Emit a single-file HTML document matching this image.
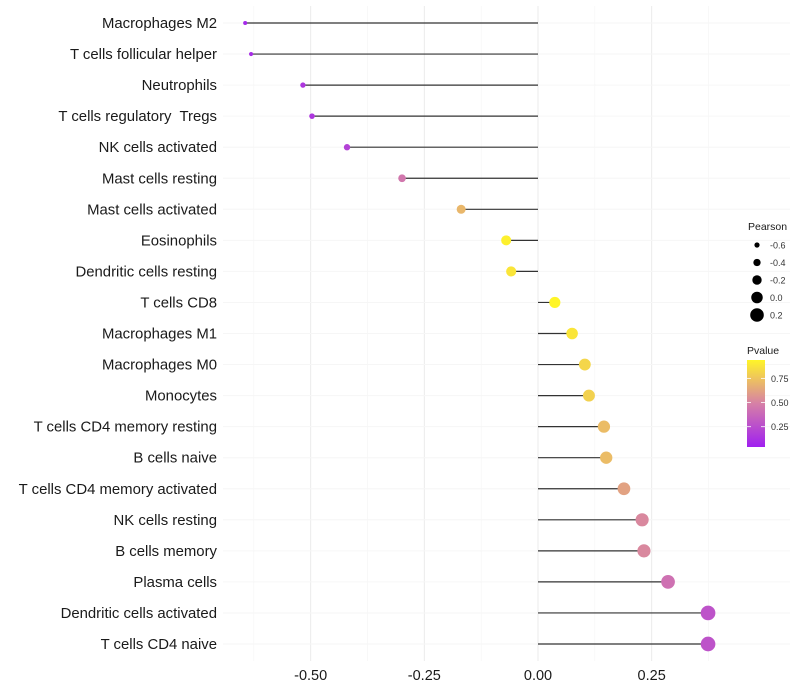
<!DOCTYPE html>
<html><head><meta charset="utf-8"><style>
body{margin:0;background:#fff;font-family:"Liberation Sans",sans-serif}
svg{display:block}
text{white-space:pre}
</style></head><body>
<svg id="c" width="800" height="700"></svg>
<script>
const categories=["Macrophages M2","T cells follicular helper","Neutrophils","T cells regulatory  Tregs","NK cells activated","Mast cells resting","Mast cells activated","Eosinophils","Dendritic cells resting","T cells CD8","Macrophages M1","Macrophages M0","Monocytes","T cells CD4 memory resting","B cells naive","T cells CD4 memory activated","NK cells resting","B cells memory","Plasma cells","Dendritic cells activated","T cells CD4 naive"];
const pearson=[-0.644,-0.631,-0.517,-0.497,-0.42,-0.299,-0.169,-0.070,-0.059,0.037,0.075,0.103,0.112,0.145,0.150,0.189,0.229,0.233,0.286,0.374,0.374];
const pvalue=[0.08,0.1,0.15,0.15,0.2,0.45,0.7,0.92,0.88,0.95,0.88,0.82,0.8,0.72,0.72,0.62,0.52,0.52,0.42,0.28,0.28];
const xTicks=[-0.5,-0.25,0,0.25];
const xTickLabels=["-0.50","-0.25","0.00","0.25"];
const legendPearson=[-0.6,-0.4,-0.2,0.0,0.2];
const legendPearsonLabels=["-0.6","-0.4","-0.2","0.0","0.2"];
const pTicks=[0.25,0.5,0.75];
const pTickLabels=["0.25","0.50","0.75"];

const NS="http://www.w3.org/2000/svg";
const svg=document.getElementById('c');
function el(t,a,p){const e=document.createElementNS(NS,t);for(const k in a)e.setAttribute(k,a[k]);(p||svg).appendChild(e);return e;}
const x=v=>538+v*454.7;
const y=i=>23+i*31.05;
const r=v=>2+(v+0.65)/1.02*5.3;
const lr=v=>2.6+(v+0.6)/0.8*4.2;
function lerp(a,b,t){return a.map((v,i)=>Math.round(v+(b[i]-v)*t));}
function color(p){
  const lo=[160,32,240],mid=[214,128,166],hi=[255,245,40];
  const t=Math.max(0,Math.min(1,(p-0.04)/0.9));
  const c=t<0.5?lerp(lo,mid,t/0.5):lerp(mid,hi,(t-0.5)/0.5);
  return `rgb(${c[0]},${c[1]},${c[2]})`;
}
const minor=[-0.625,-0.375,-0.125,0.125,0.375];
minor.forEach(v=>{const l=el('line',{x1:x(v),x2:x(v),y1:6,y2:661,stroke:'#f4f4f4','stroke-width':0.6});});
xTicks.forEach(v=>{const l=el('line',{x1:x(v),x2:x(v),y1:6,y2:661,stroke:'#ebebeb','stroke-width':1});});
categories.forEach((c,i)=>{const l=el('line',{x1:223,x2:790,y1:y(i),y2:y(i),stroke:'#f6f6f6','stroke-width':1});});
categories.forEach((c,i)=>{
  const t=el('text',{x:217,y:y(i)+5,'text-anchor':'end','font-size':14.9,fill:'#1a1a1a'});t.textContent=c;
  
  const s=el('line',{x1:x(0),x2:x(pearson[i]),y1:y(i),y2:y(i),stroke:'#333','stroke-width':1.2});
  
  const d=el('circle',{cx:x(pearson[i]),cy:y(i),r:r(pearson[i]),fill:color(pvalue[i])});
  
});
xTicks.forEach((v,i)=>{
  const t=el('text',{x:x(v),y:680,'text-anchor':'middle','font-size':14.5,fill:'#1a1a1a'});t.textContent=xTickLabels[i];
  
});
let t=el('text',{x:748,y:230,'font-size':10.5,fill:'#1a1a1a'});t.textContent='Pearson';

legendPearson.forEach((v,i)=>{
  const cy=245+i*17.5;
  const c=el('circle',{cx:757,cy:cy,r:lr(v),fill:'#000'});
  
  const l=el('text',{x:770,y:cy+3.5,'font-size':9,fill:'#333'});l.textContent=legendPearsonLabels[i];
  
});
t=el('text',{x:747,y:354,'font-size':10.5,fill:'#1a1a1a'});t.textContent='Pvalue';

const defs=el('defs',{});
const g=el('linearGradient',{id:'pg',x1:0,y1:1,x2:0,y2:0},defs);
[0,0.25,0.5,0.75,1].forEach(o=>el('stop',{offset:o,'stop-color':color(0.04+o*0.9)},g));
const bar=el('rect',{x:747,y:360,width:18,height:87,fill:'url(#pg)'});

const py=p=>447-(p-0.04)/0.9*87;
pTicks.forEach((p,i)=>{
  el('line',{x1:747,x2:751,y1:py(p),y2:py(p),stroke:'#fff','stroke-width':0.8});
  el('line',{x1:761,x2:765,y1:py(p),y2:py(p),stroke:'#fff','stroke-width':0.8});
  const l=el('text',{x:771,y:py(p)+3.5,'font-size':9,fill:'#333'});l.textContent=pTickLabels[i];
  
});
</script>
</body></html>
